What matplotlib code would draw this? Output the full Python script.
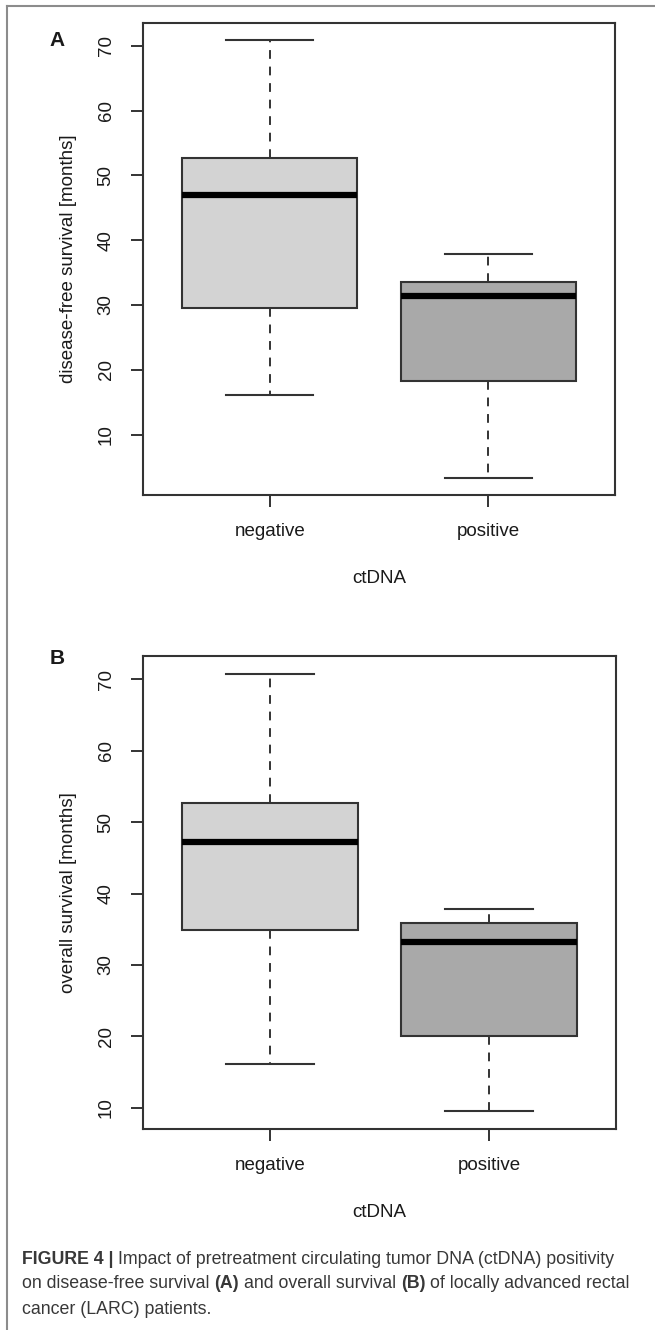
import matplotlib
matplotlib.use("Agg")
import matplotlib.pyplot as plt
from matplotlib.lines import Line2D

groups = ["negative", "positive"]

# panel A: disease-free survival (box statistics)
dfs_whislo = [16.1, 3.4]
dfs_q1 = [29.6, 18.3]
dfs_med = [46.9, 31.4]
dfs_q3 = [52.7, 33.5]
dfs_whishi = [70.8, 37.8]

# panel B: overall survival
os_whislo = [16.2, 9.5]
os_q1 = [34.9, 20.0]
os_med = [47.2, 33.2]
os_q3 = [52.7, 35.9]
os_whishi = [70.8, 37.8]

box_colors = ["#d3d3d3", "#a9a9a9"]
yticks = [10, 20, 30, 40, 50, 60, 70]

W, H = 655, 1330
plt.rcParams['font.family'] = ['Liberation Sans', 'DejaVu Sans']
fig = plt.figure(figsize=(W / 100, H / 100), dpi=100)

line_col = "#333333"
text_col = "#1a1a1a"
fs = 13.5


def fx(px):
     return px / W


def fy(py):
     return 1 - py / H


def box_panel(rect, whislo, q1, med, q3, whishi, ylabel, letter, letter_y):
     ax = fig.add_axes(rect)
     stats = []
     for i in range(len(groups)):
          stats.append(dict(label=groups[i], whislo=whislo[i], q1=q1[i], med=med[i],
                            q3=q3[i], whishi=whishi[i], fliers=[]))
     res = ax.bxp(stats, positions=[1, 2], widths=0.8, capwidths=0.4, patch_artist=True,
                  showfliers=False,
                  boxprops=dict(edgecolor=line_col, linewidth=1.5),
                  whiskerprops=dict(color=line_col, linewidth=1.4, linestyle=(0, (4.5, 4))),
                  capprops=dict(color=line_col, linewidth=1.5),
                  medianprops=dict(color="black", linewidth=4.5, solid_capstyle="butt"))
     for patch, c in zip(res['boxes'], box_colors):
          patch.set_facecolor(c)

     lo = min(whislo)
     hi = max(whishi)
     pad = (hi - lo) * 0.04
     ax.set_ylim(lo - pad, hi + pad)
     ax.set_xlim(0.5 - 0.08, 2.5 + 0.08)
     ax.set_yticks(yticks)
     ax.set_yticklabels([str(v) for v in yticks], rotation=90, va='center')
     ax.set_xticks([1, 2])
     ax.set_xticklabels(groups)
     ax.tick_params(axis='both', length=8.5, width=1.4, color=line_col, labelsize=fs,
                    labelcolor=text_col)
     ax.tick_params(axis='y', pad=12)
     ax.tick_params(axis='x', pad=12)
     for s in ax.spines.values():
          s.set_color(line_col)
          s.set_linewidth(1.5)
     ax.set_ylabel(ylabel, fontsize=fs, color=text_col, labelpad=15)
     ax.set_xlabel("ctDNA", fontsize=fs, color=text_col, labelpad=21)
     fig.text(fx(57), fy(letter_y), letter, fontsize=15, fontweight='bold',
              ha='center', va='center', color=text_col)
     return ax


box_panel([fx(143), fy(495), fx(615) - fx(143), fy(23) - fy(495)],
          dfs_whislo, dfs_q1, dfs_med, dfs_q3, dfs_whishi,
          "disease-free survival [months]", "A", 40)
box_panel([fx(143), fy(1129), fx(616) - fx(143), fy(656) - fy(1129)],
          os_whislo, os_q1, os_med, os_q3, os_whishi,
          "overall survival [months]", "B", 659)

# figure frame (top and left rule)
fig.add_artist(Line2D([fx(7), 1], [fy(6), fy(6)], color="#8c8c8c", linewidth=1.5))
fig.add_artist(Line2D([fx(7), fx(7)], [0, fy(6)], color="#8c8c8c", linewidth=1.5))

# caption with bold pieces
cap_font = ['Liberation Sans', 'DejaVu Sans']
cap_size = 12.8
cap_col = "#383838"
caption = [
     [("FIGURE 4 |", 'bold'), ("Impact of pretreatment circulating tumor DNA (ctDNA) positivity", 'normal')],
     [("on disease-free survival", 'normal'), ("(A)", 'bold'), ("and overall survival", 'normal'),
      ("(B)", 'bold'), ("of locally advanced rectal", 'normal')],
     [("cancer (LARC) patients.", 'normal')],
]
renderer = fig.canvas.get_renderer()
probe = fig.text(0, 0, "a a", fontsize=cap_size, family=cap_font)
w1 = probe.get_window_extent(renderer).width
probe.set_text("aa")
space_w = w1 - probe.get_window_extent(renderer).width
probe.remove()

line_y = [1259, 1284, 1309]
for segs, yy in zip(caption, line_y):
     x = 22.0
     for txt, wt in segs:
          t = fig.text(fx(x), fy(yy), txt, fontsize=cap_size, fontweight=wt, family=cap_font,
                       color=cap_col, ha='left', va='center')
          x += t.get_window_extent(renderer).width + space_w

fig.savefig("out.png", dpi=100)
